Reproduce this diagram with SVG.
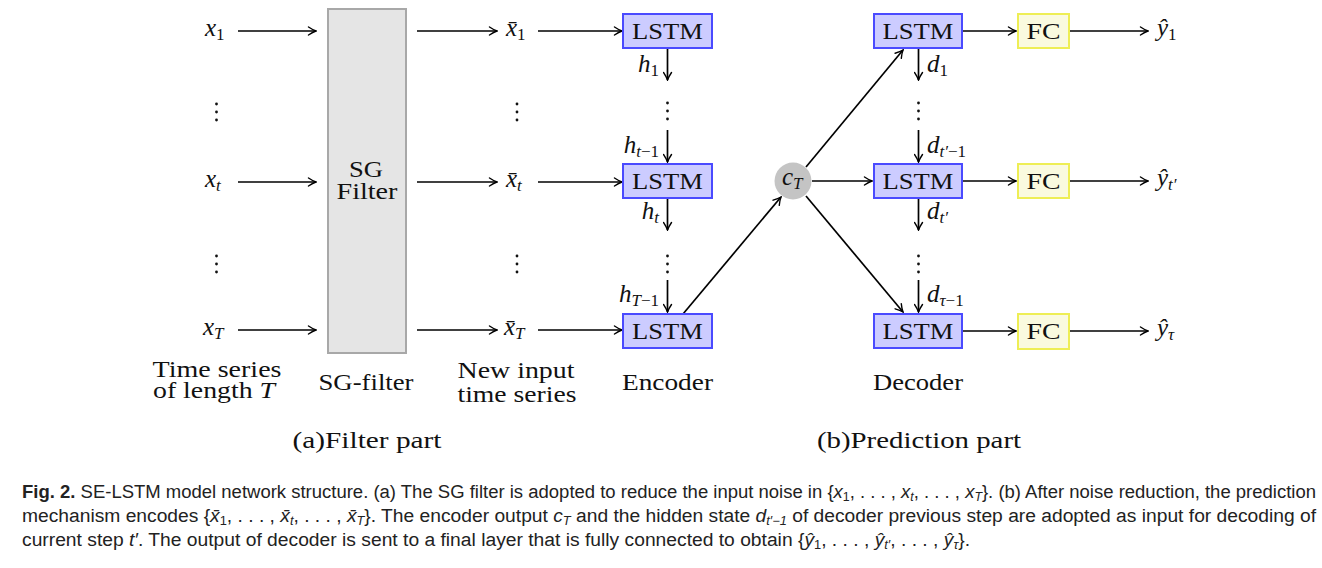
<svg xmlns="http://www.w3.org/2000/svg" width="1322" height="568" viewBox="0 0 1322 568">
<defs>
<marker id="ah" viewBox="-9 -5 10 10" refX="0" refY="0" markerWidth="10" markerHeight="10" markerUnits="userSpaceOnUse" orient="auto">
<path d="M-7.5,-4 Q-3,-1 0,0 Q-3,1 -7.5,4" fill="none" stroke="#000" stroke-width="1.4" stroke-linecap="round"/>
</marker>
<style>
.t{font-family:"Liberation Serif","DejaVu Serif",serif;font-size:23px;fill:#111}
.m{font-family:"Liberation Serif","DejaVu Serif",serif;font-size:25px;font-style:italic;fill:#111}
.s{font-size:17px;font-style:normal}
.si{font-size:17px;font-style:italic}
.c{text-anchor:middle}
.e{text-anchor:end}
.lstm{fill:#ccccff;stroke:#4a4aff;stroke-width:2}
.fc{fill:#fafadf;stroke:#eeee55;stroke-width:2}
.ar{stroke:#000;stroke-width:1.7;fill:none;marker-end:url(#ah)}
.cap{font-family:"Liberation Sans","DejaVu Sans",sans-serif;font-size:18px;fill:#222}
</style>
</defs>
<rect width="1322" height="568" fill="#fff"/>

<g id="connectors">
<line class="ar" x1="238" y1="31" x2="316" y2="31"/>
<line class="ar" x1="238" y1="182" x2="316" y2="182"/>
<line class="ar" x1="238" y1="330" x2="316" y2="330"/>
<line class="ar" x1="417" y1="31" x2="497" y2="31"/>
<line class="ar" x1="417" y1="182" x2="497" y2="182"/>
<line class="ar" x1="417" y1="330" x2="497" y2="330"/>
<line class="ar" x1="538" y1="31" x2="622" y2="31"/>
<line class="ar" x1="538" y1="182" x2="622" y2="182"/>
<line class="ar" x1="538" y1="330" x2="622" y2="330"/>
<line class="ar" x1="667.5" y1="49" x2="667.5" y2="80"/>
<line class="ar" x1="667.5" y1="130" x2="667.5" y2="162"/>
<line class="ar" x1="667.5" y1="199" x2="667.5" y2="230"/>
<line class="ar" x1="667.5" y1="280" x2="667.5" y2="312"/>
<line class="ar" x1="683" y1="314" x2="781" y2="197"/>
<line class="ar" x1="806" y1="167" x2="903" y2="50"/>
<line class="ar" x1="812" y1="181" x2="872" y2="181"/>
<line class="ar" x1="806" y1="196" x2="903" y2="312"/>
<line class="ar" x1="918.5" y1="49" x2="918.5" y2="80"/>
<line class="ar" x1="918.5" y1="130" x2="918.5" y2="162"/>
<line class="ar" x1="918.5" y1="199" x2="918.5" y2="230"/>
<line class="ar" x1="918.5" y1="280" x2="918.5" y2="312"/>
<line class="ar" x1="963" y1="31" x2="1016" y2="31"/>
<line class="ar" x1="963" y1="181" x2="1016" y2="181"/>
<line class="ar" x1="963" y1="331" x2="1016" y2="331"/>
<line class="ar" x1="1070" y1="31" x2="1148" y2="31"/>
<line class="ar" x1="1070" y1="181" x2="1148" y2="181"/>
<line class="ar" x1="1070" y1="331" x2="1148" y2="331"/>
</g>

<g id="dots" fill="#111">
<circle cx="216.5" cy="104" r="1.4"/><circle cx="216.5" cy="112" r="1.4"/><circle cx="216.5" cy="120" r="1.4"/>
<circle cx="216.5" cy="256" r="1.4"/><circle cx="216.5" cy="264" r="1.4"/><circle cx="216.5" cy="272" r="1.4"/>
<circle cx="517" cy="104" r="1.4"/><circle cx="517" cy="112" r="1.4"/><circle cx="517" cy="120" r="1.4"/>
<circle cx="517" cy="256" r="1.4"/><circle cx="517" cy="264" r="1.4"/><circle cx="517" cy="272" r="1.4"/>
<circle cx="667.5" cy="103" r="1.4"/><circle cx="667.5" cy="111" r="1.4"/><circle cx="667.5" cy="119" r="1.4"/>
<circle cx="667.5" cy="256" r="1.4"/><circle cx="667.5" cy="264" r="1.4"/><circle cx="667.5" cy="272" r="1.4"/>
<circle cx="918.5" cy="103" r="1.4"/><circle cx="918.5" cy="111" r="1.4"/><circle cx="918.5" cy="119" r="1.4"/>
<circle cx="918.5" cy="256" r="1.4"/><circle cx="918.5" cy="264" r="1.4"/><circle cx="918.5" cy="272" r="1.4"/>
</g>

<g id="inputs">
<text class="m" x="205" y="36">x<tspan class="s" dy="4">1</tspan></text>
<text class="m" x="205" y="187">x<tspan class="si" dy="4">t</tspan></text>
<text class="m" x="203" y="335">x<tspan class="si" dy="4">T</tspan></text>
</g>

<g id="sg-filter">
<rect x="328" y="9" width="78" height="344" fill="#e5e5e5" stroke="#a8a8a8" stroke-width="2"/>
<text class="t c"><tspan x="366" y="177" textLength="34" lengthAdjust="spacingAndGlyphs">SG</tspan><tspan x="367" y="199" textLength="61" lengthAdjust="spacingAndGlyphs">Filter</tspan></text>
</g>

<g id="filtered">
<text class="m" x="506" y="36">x̄<tspan class="s" dy="4">1</tspan></text>
<text class="m" x="506" y="187">x̄<tspan class="si" dy="4">t</tspan></text>
<text class="m" x="504" y="335">x̄<tspan class="si" dy="4">T</tspan></text>
</g>

<g id="enc1"><rect class="lstm" x="623" y="14" width="89" height="34"/><text class="t c" x="667.5" y="39" textLength="71" lengthAdjust="spacingAndGlyphs">LSTM</text></g>
<g id="enc2"><rect class="lstm" x="623" y="164" width="89" height="34"/><text class="t c" x="667.5" y="189" textLength="71" lengthAdjust="spacingAndGlyphs">LSTM</text></g>
<g id="enc3"><rect class="lstm" x="623" y="314" width="89" height="34"/><text class="t c" x="667.5" y="339" textLength="71" lengthAdjust="spacingAndGlyphs">LSTM</text></g>

<g id="hidden-labels">
<text class="m e" x="659" y="72">h<tspan class="s" dy="4">1</tspan></text>
<text class="m e" x="659" y="153">h<tspan class="si" dy="4">t</tspan><tspan class="s">−1</tspan></text>
<text class="m e" x="659" y="219">h<tspan class="si" dy="4">t</tspan></text>
<text class="m e" x="659" y="302">h<tspan class="si" dy="4">T</tspan><tspan class="s">−1</tspan></text>
</g>

<g id="cT">
<circle cx="793" cy="181" r="18.5" fill="#c4c4c4"/>
<text class="m" x="782" y="185">c<tspan class="si" dy="4">T</tspan></text>
</g>

<g id="dec1"><rect class="lstm" x="874" y="14" width="88" height="34"/><text class="t c" x="918" y="39" textLength="71" lengthAdjust="spacingAndGlyphs">LSTM</text></g>
<g id="dec2"><rect class="lstm" x="874" y="164" width="88" height="34"/><text class="t c" x="918" y="189" textLength="71" lengthAdjust="spacingAndGlyphs">LSTM</text></g>
<g id="dec3"><rect class="lstm" x="874" y="314" width="88" height="34"/><text class="t c" x="918" y="339" textLength="71" lengthAdjust="spacingAndGlyphs">LSTM</text></g>

<g id="dec-labels">
<text class="m" x="927" y="72">d<tspan class="s" dy="4">1</tspan></text>
<text class="m" x="927" y="153">d<tspan class="si" dy="4">t′</tspan><tspan class="s">−1</tspan></text>
<text class="m" x="927" y="219">d<tspan class="si" dy="4">t′</tspan></text>
<text class="m" x="927" y="302">d<tspan class="si" dy="4">τ</tspan><tspan class="s">−1</tspan></text>
</g>

<g id="fc1"><rect class="fc" x="1018" y="14" width="51" height="34"/><text class="t c" x="1043.5" y="39" textLength="34" lengthAdjust="spacingAndGlyphs">FC</text></g>
<g id="fc2"><rect class="fc" x="1018" y="164" width="51" height="34"/><text class="t c" x="1043.5" y="189" textLength="34" lengthAdjust="spacingAndGlyphs">FC</text></g>
<g id="fc3"><rect class="fc" x="1018" y="314" width="51" height="35"/><text class="t c" x="1043.5" y="339" textLength="34" lengthAdjust="spacingAndGlyphs">FC</text></g>

<g id="outputs">
<text class="m" x="1157" y="36">ŷ<tspan class="s" dy="4">1</tspan></text>
<text class="m" x="1157" y="186">ŷ<tspan class="si" dy="4">t′</tspan></text>
<text class="m" x="1157" y="336">ŷ<tspan class="si" dy="4">τ</tspan></text>
</g>

<g id="labels">
<text class="t c"><tspan x="217" y="377" textLength="129" lengthAdjust="spacingAndGlyphs">Time series</tspan><tspan x="214" y="398" textLength="122" lengthAdjust="spacingAndGlyphs">of length <tspan font-style="italic">T</tspan></tspan></text>
<text class="t c" x="366" y="390" textLength="95" lengthAdjust="spacingAndGlyphs">SG-filter</text>
<text class="t c"><tspan x="516" y="378" textLength="117" lengthAdjust="spacingAndGlyphs">New input</tspan><tspan x="517" y="402" textLength="119" lengthAdjust="spacingAndGlyphs">time series</tspan></text>
<text class="t c" x="667.5" y="390" textLength="91" lengthAdjust="spacingAndGlyphs">Encoder</text>
<text class="t c" x="918" y="390" textLength="90" lengthAdjust="spacingAndGlyphs">Decoder</text>
<text class="t c" x="367" y="448" textLength="149" lengthAdjust="spacingAndGlyphs">(a)Filter part</text>
<text class="t c" x="919" y="448" textLength="204" lengthAdjust="spacingAndGlyphs">(b)Prediction part</text>
</g>

<g id="caption">
<text class="cap" x="22" y="498" textLength="1294" lengthAdjust="spacingAndGlyphs"><tspan font-weight="bold">Fig. 2.</tspan>  SE-LSTM model network structure. (a) The SG filter is adopted to reduce the input noise in {<tspan font-style="italic">x</tspan><tspan font-size="12" dy="3">1</tspan><tspan dy="-3">, . . . , </tspan><tspan font-style="italic">x</tspan><tspan font-size="12" font-style="italic" dy="3">t</tspan><tspan dy="-3">, . . . , </tspan><tspan font-style="italic">x</tspan><tspan font-size="12" font-style="italic" dy="3">T</tspan><tspan dy="-3">}. (b) After noise reduction, the prediction</tspan></text>
<text class="cap" x="22" y="522" textLength="1294" lengthAdjust="spacingAndGlyphs">mechanism encodes {<tspan font-style="italic">x̄</tspan><tspan font-size="12" dy="3">1</tspan><tspan dy="-3">, . . . , </tspan><tspan font-style="italic">x̄</tspan><tspan font-size="12" font-style="italic" dy="3">t</tspan><tspan dy="-3">, . . . , </tspan><tspan font-style="italic">x̄</tspan><tspan font-size="12" font-style="italic" dy="3">T</tspan><tspan dy="-3">}. The encoder output </tspan><tspan font-style="italic">c</tspan><tspan font-size="12" font-style="italic" dy="3">T</tspan><tspan dy="-3"> and the hidden state </tspan><tspan font-style="italic">d</tspan><tspan font-size="12" font-style="italic" dy="3">t′−1</tspan><tspan dy="-3"> of decoder previous step are adopted as input for decoding of</tspan></text>
<text class="cap" x="22" y="546" textLength="948" lengthAdjust="spacingAndGlyphs">current step <tspan font-style="italic">t′</tspan>. The output of decoder is sent to a final layer that is fully connected to obtain {<tspan font-style="italic">ŷ</tspan><tspan font-size="12" dy="3">1</tspan><tspan dy="-3">, . . . , </tspan><tspan font-style="italic">ŷ</tspan><tspan font-size="12" font-style="italic" dy="3">t′</tspan><tspan dy="-3">, . . . , </tspan><tspan font-style="italic">ŷ</tspan><tspan font-size="12" font-style="italic" dy="3">τ</tspan><tspan dy="-3">}.</tspan></text>
</g>
</svg>
